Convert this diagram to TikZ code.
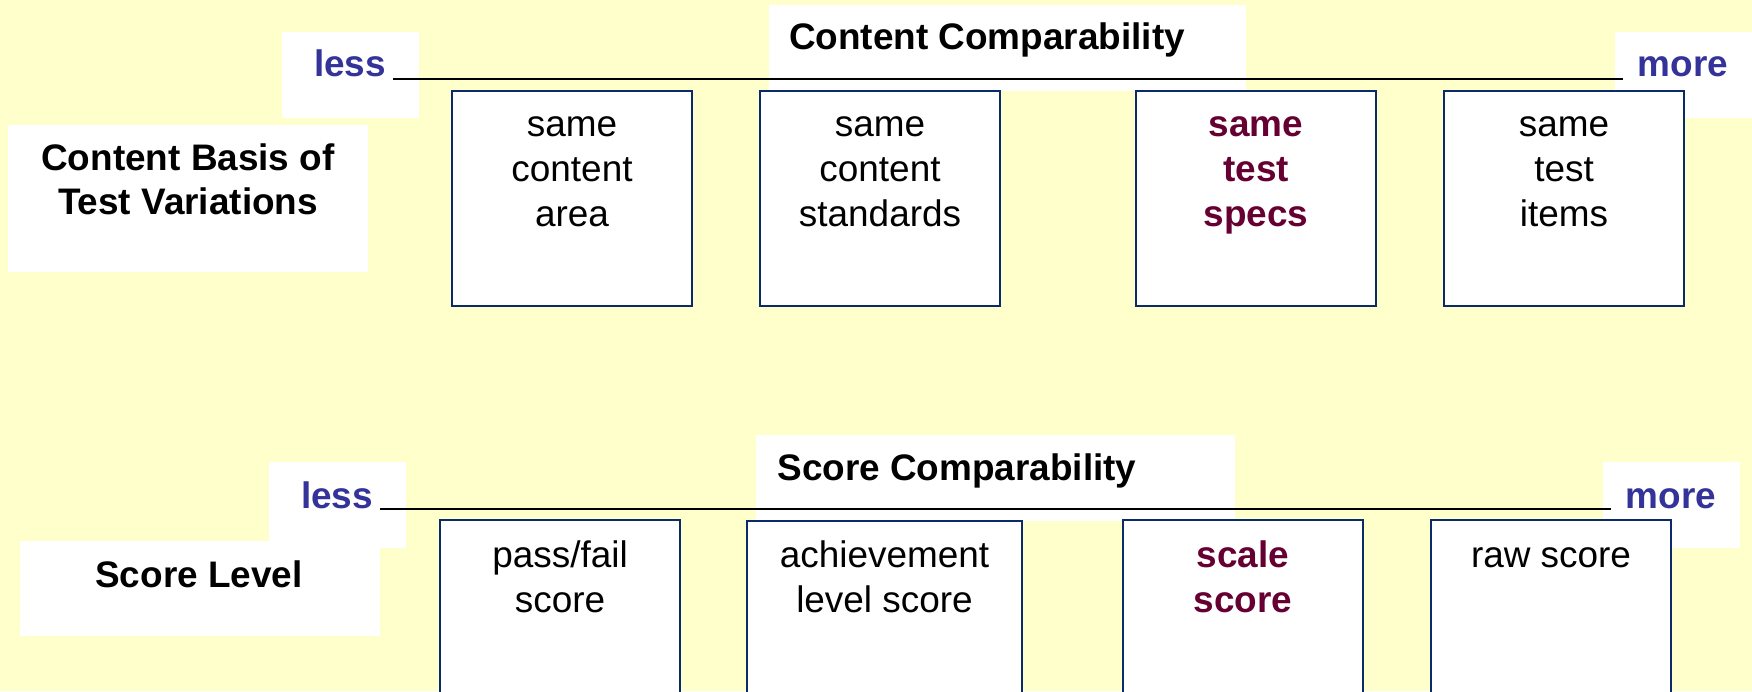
\documentclass[tikz,border=0pt]{standalone}
\usepackage{fontspec}
\setmainfont{Liberation Sans}
\definecolor{paper}{HTML}{FFFFCC}
\definecolor{navy}{HTML}{0A2A6A}
\definecolor{scaleblue}{HTML}{333399}
\definecolor{wine}{HTML}{660033}
\begin{document}
% Multi-line labels are placed by the baseline of their last line.
\begin{tikzpicture}[x=0.01cm,y=-0.01cm,
  every node/.style={inner sep=0pt, outer sep=0pt},
  panel/.style={fill=white, draw=none},
  card/.style={draw=navy, line width=0.65pt, fill=white},
  body/.style={anchor=base, align=center, font=\fontsize{10.5}{12.66}\selectfont},
  heading/.style={body, font=\fontsize{10.5}{12.66}\selectfont\bfseries},
  endword/.style={heading, text=scaleblue},
  keyword/.style={heading, text=wine},
  scaleline/.style={draw=black, line width=0.8pt}
]
\useasboundingbox (0,0) rectangle (1752,691);
\clip (0,0) rectangle (1752,691);
\fill[paper] (0,0) rectangle (1752,691);

% ---------- content comparability ----------
\path[panel] (282,32) rectangle (419,118);
\path[panel] (769,5) rectangle (1246,91);
\path[panel] (1615,32) rectangle (1752,118);
\path[panel] (8,125) rectangle (368,272);

\node[heading] (ctitle) at (987,50) {Content Comparability};
\node[endword] (cless) at (350,77) {less};
\node[endword] (cmore) at (1683,77) {more};
\coordinate (cl) at (393,79);
\coordinate (cr) at (1623,79);
\draw[scaleline] (cl) -- (cr);

\node[heading] (basis) at (188,215) {Content Basis of\\Test Variations};

\path[card] (452,91) rectangle (692,306);
\path[card] (760,91) rectangle (1000,306);
\path[card] (1136,91) rectangle (1376,306);
\path[card] (1444,91) rectangle (1684,306);

\node[body] (area) at (572,226) {same\\content\\area};
\node[body] (stds) at (880,226) {same\\content\\standards};
\node[keyword] (specs) at (1256,226) {same\\test\\specs};
\node[body] (items) at (1564,226) {same\\test\\items};

% ---------- score comparability ----------
\path[panel] (269,462) rectangle (406,548);
\path[panel] (20,541) rectangle (380,636);
\path[panel] (756,435) rectangle (1235,521);
\path[panel] (1603,462) rectangle (1740,548);

\node[heading] (stitle) at (957,480) {Score Comparability};
\node[endword] (sless) at (337,508) {less};
\node[endword] (smore) at (1671,508) {more};
\coordinate (sl) at (380,509);
\coordinate (sr) at (1611,509);
\draw[scaleline] (sl) -- (sr);

\node[heading] (level) at (199,587) {Score Level};

\path[card] (440,520) rectangle (680,720);
\path[card] (747,521) rectangle (1022,720);
\path[card] (1123,520) rectangle (1363,720);
\path[card] (1431,520) rectangle (1671,720);

\node[body] (pf) at (560,612) {pass/fail\\score};
\node[body] (ach) at (884.5,612) {achievement\\level score};
\node[keyword] (scale) at (1243,612) {scale\\score};
\node[body] (raw) at (1551,567) {raw score};
\end{tikzpicture}
\end{document}
